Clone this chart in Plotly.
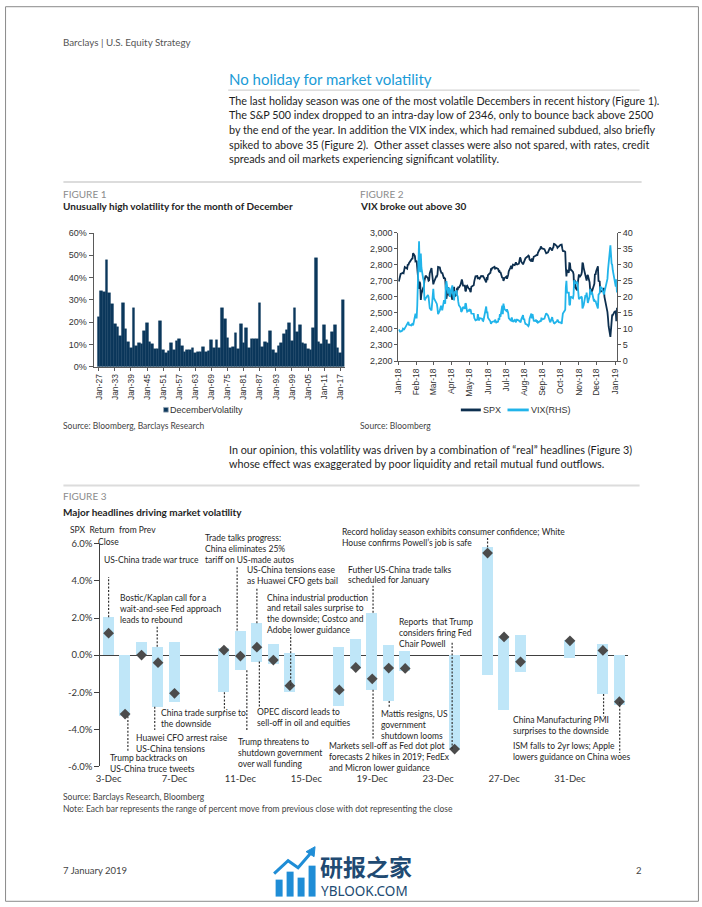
import pandas as pd
import plotly.graph_objects as go

# figure size; reference page coordinates are mapped through the viewer's small inset
W, H = 702, 907
INSET, SCALE = 4.5, 0.99

# ---------------- Figure 1 data ----------------
fig1_years = list(range(1927, 2019))
fig1_dec_vol = [22.5, 34, 33.5, 48, 33, 28, 19, 18, 14, 28.5,
                17, 11, 8.5, 26.5, 9.5, 10.5, 10, 16, 19.5, 11,
                10, 8, 8, 20.5, 7.5, 6, 7, 10.5, 7.5, 11.5,
                12.5, 9.5, 6.5, 7.5, 7.5, 8.5, 6, 6.5, 6.5, 9,
                6.5, 7, 12, 8.5, 12, 8.5, 26.5, 21.5, 13, 8.5,
                9, 15, 8, 19, 10.5, 17.5, 8.5, 12.5, 12.5, 12.5,
                28.5, 9, 11, 10.5, 16, 7.5, 6, 9.5, 10.5, 14.5,
                16.5, 19.5, 11.5, 26.5, 15.5, 18.5, 10.5, 10, 8, 7.5,
                17.5, 49, 11, 10, 18.5, 12, 10, 15.5, 18.5, 8.5,
                6, 30]
fig1_tick_years = [1927, 1933, 1939, 1945, 1951, 1957, 1963, 1969, 1975,
                   1981, 1987, 1993, 1999, 2005, 2011, 2017]
fig1_tick_labels = ["Jan-27", "Jan-33", "Jan-39", "Jan-45", "Jan-51", "Jan-57",
                    "Jan-63", "Jan-69", "Jan-75", "Jan-81", "Jan-87", "Jan-93",
                    "Jan-99", "Jan-05", "Jan-11", "Jan-17"]
fig1_y_ticks = [0, 10, 20, 30, 40, 50, 60]
fig1_y_labels = ["0%", "10%", "20%", "30%", "40%", "50%", "60%"]

# ---------------- Figure 2 data ----------------
trade_days = {
    "2018-01": [2, 3, 4, 5, 8, 9, 10, 11, 12, 16, 17, 18, 19, 22, 23, 24, 25, 26, 29, 30, 31],
    "2018-02": [1, 2, 5, 6, 7, 8, 9, 12, 13, 14, 15, 16, 20, 21, 22, 23, 26, 27, 28],
    "2018-03": [1, 2, 5, 6, 7, 8, 9, 12, 13, 14, 15, 16, 19, 20, 21, 22, 23, 26, 27, 28, 29],
    "2018-04": [2, 3, 4, 5, 6, 9, 10, 11, 12, 13, 16, 17, 18, 19, 20, 23, 24, 25, 26, 27, 30],
    "2018-05": [1, 2, 3, 4, 7, 8, 9, 10, 11, 14, 15, 16, 17, 18, 21, 22, 23, 24, 25, 29, 30, 31],
    "2018-06": [1, 4, 5, 6, 7, 8, 11, 12, 13, 14, 15, 18, 19, 20, 21, 22, 25, 26, 27, 28, 29],
    "2018-07": [2, 3, 5, 6, 9, 10, 11, 12, 13, 16, 17, 18, 19, 20, 23, 24, 25, 26, 27, 30, 31],
    "2018-08": [1, 2, 3, 6, 7, 8, 9, 10, 13, 14, 15, 16, 17, 20, 21, 22, 23, 24, 27, 28, 29, 30, 31],
    "2018-09": [4, 5, 6, 7, 10, 11, 12, 13, 14, 17, 18, 19, 20, 21, 24, 25, 26, 27, 28],
    "2018-10": [1, 2, 3, 4, 5, 8, 9, 10, 11, 12, 15, 16, 17, 18, 19, 22, 23, 24, 25, 26, 29, 30, 31],
    "2018-11": [1, 2, 5, 6, 7, 8, 9, 12, 13, 14, 15, 16, 19, 20, 21, 23, 26, 27, 28, 29, 30],
    "2018-12": [3, 4, 6, 7, 10, 11, 12, 13, 14, 17, 18, 19, 20, 21, 24, 26, 27, 28, 31],
    "2019-01": [2, 3, 4],
}
spx_close = {
    "2018-01": [2696, 2713, 2724, 2743, 2748, 2751, 2748, 2768, 2786, 2776, 2803, 2798, 2810, 2833, 2839, 2838, 2839, 2873, 2854, 2822, 2824],
    "2018-02": [2822, 2762, 2649, 2695, 2682, 2581, 2620, 2656, 2663, 2699, 2731, 2732, 2716, 2701, 2704, 2747, 2780, 2744, 2714],
    "2018-03": [2678, 2691, 2721, 2728, 2727, 2739, 2787, 2783, 2765, 2749, 2747, 2752, 2713, 2717, 2712, 2644, 2588, 2659, 2613, 2605, 2641],
    "2018-04": [2582, 2614, 2645, 2663, 2604, 2613, 2657, 2642, 2664, 2656, 2678, 2706, 2709, 2693, 2670, 2670, 2635, 2639, 2667, 2670, 2648],
    "2018-05": [2655, 2636, 2630, 2663, 2673, 2672, 2698, 2723, 2728, 2730, 2711, 2722, 2720, 2713, 2733, 2724, 2733, 2728, 2721, 2690, 2724, 2705],
    "2018-06": [2735, 2747, 2749, 2772, 2770, 2779, 2782, 2787, 2776, 2782, 2780, 2774, 2763, 2767, 2750, 2755, 2717, 2723, 2700, 2716, 2718],
    "2018-07": [2727, 2713, 2737, 2760, 2784, 2794, 2774, 2798, 2801, 2798, 2810, 2816, 2804, 2802, 2807, 2820, 2846, 2837, 2819, 2803, 2816],
    "2018-08": [2813, 2827, 2840, 2850, 2858, 2858, 2854, 2833, 2822, 2840, 2818, 2841, 2850, 2857, 2863, 2862, 2857, 2875, 2897, 2898, 2914, 2901, 2902],
    "2018-09": [2897, 2889, 2878, 2872, 2877, 2888, 2889, 2904, 2905, 2889, 2904, 2908, 2931, 2930, 2919, 2916, 2906, 2914, 2914],
    "2018-10": [2925, 2923, 2926, 2902, 2886, 2884, 2880, 2786, 2728, 2767, 2751, 2810, 2809, 2769, 2768, 2756, 2741, 2656, 2706, 2659, 2641, 2683, 2712],
    "2018-11": [2740, 2723, 2738, 2755, 2814, 2807, 2781, 2726, 2722, 2702, 2730, 2736, 2691, 2642, 2650, 2633, 2673, 2682, 2744, 2738, 2760],
    "2018-12": [2790, 2700, 2696, 2633, 2638, 2637, 2651, 2651, 2600, 2546, 2546, 2507, 2467, 2417, 2351, 2468, 2489, 2486, 2507],
    "2019-01": [2510, 2448, 2532],
}
vix_close = {
    "2018-01": [9.8, 9.2, 9.2, 9.2, 9.5, 10.1, 9.8, 9.9, 10.2, 11.7, 11.9, 12.2, 11.3, 11.0, 11.1, 11.5, 11.6, 11.1, 13.8, 14.8, 13.5],
    "2018-02": [13.5, 17.3, 37.3, 30.0, 27.7, 33.5, 29.1, 25.6, 25.0, 19.3, 19.1, 19.5, 20.6, 20.0, 18.7, 16.5, 15.8, 18.6, 19.9],
    "2018-03": [22.5, 19.6, 18.7, 18.4, 17.8, 16.5, 14.6, 15.8, 16.4, 17.2, 16.6, 15.8, 19.0, 18.2, 17.9, 23.3, 24.9, 21.0, 22.5, 22.9, 20.0],
    "2018-04": [23.6, 21.1, 20.1, 18.9, 21.5, 21.8, 20.5, 20.2, 18.5, 17.4, 16.6, 15.3, 15.6, 16.0, 16.9, 16.3, 18.0, 17.8, 16.2, 15.4, 15.9],
    "2018-05": [15.5, 16.0, 15.9, 14.8, 14.8, 14.7, 13.4, 13.2, 12.7, 12.9, 14.6, 13.4, 12.6, 13.4, 13.1, 13.2, 12.6, 12.5, 13.2, 17.0, 14.9, 15.4],
    "2018-06": [13.5, 12.7, 12.4, 11.6, 12.1, 12.2, 12.4, 12.3, 12.9, 12.1, 12.0, 12.3, 13.4, 12.8, 14.6, 13.8, 17.3, 14.6, 17.9, 16.9, 16.1],
    "2018-07": [15.6, 16.1, 15.0, 13.4, 12.7, 12.6, 13.6, 12.6, 12.2, 12.8, 12.1, 12.1, 12.9, 12.9, 12.6, 12.4, 12.3, 12.1, 13.0, 14.3, 12.8],
    "2018-08": [13.2, 12.2, 11.6, 11.3, 10.9, 10.9, 11.3, 13.2, 14.8, 13.3, 14.6, 13.5, 12.6, 12.5, 12.9, 12.3, 12.4, 12.0, 12.2, 12.5, 12.3, 13.5, 12.9],
    "2018-09": [13.2, 13.9, 14.7, 14.9, 14.2, 13.2, 13.1, 12.4, 12.1, 13.7, 12.8, 11.8, 11.8, 11.7, 12.2, 12.4, 12.9, 12.4, 12.1],
    "2018-10": [12.0, 12.1, 11.6, 14.2, 14.8, 15.7, 16.0, 23.0, 25.0, 21.3, 21.3, 17.6, 17.4, 20.1, 19.9, 19.6, 20.7, 25.2, 24.2, 24.2, 24.7, 23.4, 21.2],
    "2018-11": [19.3, 19.5, 20.0, 19.9, 16.4, 16.7, 17.4, 20.5, 20.0, 21.3, 20.0, 18.1, 20.1, 22.5, 20.8, 21.5, 18.9, 19.0, 18.5, 18.8, 18.1],
    "2018-12": [16.4, 20.7, 21.2, 23.2, 22.6, 21.8, 21.5, 20.7, 21.6, 24.5, 25.6, 25.6, 28.4, 30.1, 36.1, 30.4, 30.0, 28.3, 25.4],
    "2019-01": [23.2, 25.5, 21.4],
}
fig2_tick_dates = ["2018-01-01", "2018-02-01", "2018-03-01", "2018-04-01", "2018-05-01",
                   "2018-06-01", "2018-07-01", "2018-08-01", "2018-09-01", "2018-10-01",
                   "2018-11-01", "2018-12-01", "2019-01-01"]
fig2_tick_labels = ["Jan-18", "Feb-18", "Mar-18", "Apr-18", "May-18", "Jun-18", "Jul-18",
                    "Aug-18", "Sep-18", "Oct-18", "Nov-18", "Dec-18", "Jan-19"]
spx_ticks = [2200, 2300, 2400, 2500, 2600, 2700, 2800, 2900, 3000]
spx_tick_labels = ["2,200", "2,300", "2,400", "2,500", "2,600", "2,700", "2,800", "2,900", "3,000"]
vix_ticks = [0, 5, 10, 15, 20, 25, 30, 35, 40]

# ---------------- Figure 3 data ----------------
fig3_dates = ["2018-12-03", "2018-12-04", "2018-12-05", "2018-12-06", "2018-12-07",
              "2018-12-10", "2018-12-11", "2018-12-12", "2018-12-13", "2018-12-14",
              "2018-12-17", "2018-12-18", "2018-12-19", "2018-12-20", "2018-12-21",
              "2018-12-24", "2018-12-26", "2018-12-27", "2018-12-28", "2018-12-31",
              "2019-01-02", "2019-01-03"]
fig3_high = [2.04, 0.0, 0.72, 0.45, 0.72,
             0.40, 1.33, 1.72, 0.60, 0.12,
             0.47, 0.88, 2.29, 0.55, 0.23,
             0.0, 5.82, 1.05, 1.11, 0.84,
             0.63, 0.0]
fig3_low = [0.0, -3.30, 0.0, -2.78, -2.51,
            -2.0, -0.82, -0.34, -0.45, -1.96,
            -2.72, -0.75, -1.87, -2.48, -0.85,
            -5.10, -1.04, -2.96, -0.88, -0.13,
            -2.10, -2.69]
fig3_close = [1.18, -3.18, 0.0, -0.41, -2.06,
              0.27, -0.05, 0.43, -0.27, -1.65,
              -1.88, -0.67, -1.28, -0.70, -0.72,
              -5.07, 5.50, 0.98, -0.36, 0.77,
              0.25, -2.51]
fig3_tick_dates = ["2018-12-03", "2018-12-07", "2018-12-11", "2018-12-15",
                   "2018-12-19", "2018-12-23", "2018-12-27", "2018-12-31"]
fig3_tick_labels = ["3-Dec", "7-Dec", "11-Dec", "15-Dec", "19-Dec", "23-Dec", "27-Dec", "31-Dec"]
fig3_boundaries = ["2018-12-06 12:00", "2018-12-10 12:00", "2018-12-14 12:00", "2018-12-18 12:00",
                   "2018-12-22 12:00", "2018-12-26 12:00", "2018-12-30 12:00", "2019-01-03 12:00"]
fig3_y_ticks = [-6, -4, -2, 0, 2, 4, 6]
fig3_y_labels = ["-6.0%", "-4.0%", "-2.0%", "0.0%", "2.0%", "4.0%", "6.0%"]

# ---------------- styling ----------------
BODY = "Lato, sans-serif"
TICKF = "Liberation Sans, Arial, sans-serif"
NOTE = "Lato, sans-serif"
NAVY = "#0c385c"
SPX_C = "#0d2f4f"
VIX_C = "#21b4ea"
BAR3 = "#bfe6f8"
DIA = "#4b4b4b"
AX = "#5a5a5a"
TXT = "#1e1e1e"


def px2x(px):
    return ((px - INSET) / SCALE) / W


def px2y(py):
    return 1 - ((py - INSET) / SCALE) / H


annotations = []
shapes = []


def add_text(x, y, s, size=10, color=TXT, family=BODY, anchor="left", weight=None):
    font = dict(family=family, size=size, color=color)
    if weight:
        font["weight"] = weight
    annotations.append(dict(xref="paper", yref="paper", x=px2x(x - 1), y=px2y(y), text=s,
                            showarrow=False, xanchor=anchor, yanchor="middle", borderpad=0,
                            font=font))


def hline(x0, x1, y, color, width):
    shapes.append(dict(type="line", xref="paper", yref="paper", x0=px2x(x0), x1=px2x(x1),
                       y0=px2y(y), y1=px2y(y), line=dict(color=color, width=width)))


# build Figure 2 series
fig2_dates, fig2_spx, fig2_vix = [], [], []
for m, days in trade_days.items():
    for d, s, v in zip(days, spx_close[m], vix_close[m]):
        fig2_dates.append(f"{m}-{d:02d}")
        fig2_spx.append(s)
        fig2_vix.append(v)

fig = go.Figure()

# Figure 1 bars
fig.add_trace(go.Bar(x=fig1_years, y=fig1_dec_vol, width=1,
                     marker=dict(color=NAVY, line=dict(width=0.4, color=NAVY)),
                     xaxis="x", yaxis="y", hoverinfo="skip"))

# Figure 2 lines
fig.add_trace(go.Scatter(x=fig2_dates, y=fig2_spx, mode="lines", line=dict(color=SPX_C, width=1.8),
                         xaxis="x2", yaxis="y2", hoverinfo="skip"))
fig.add_trace(go.Scatter(x=fig2_dates, y=fig2_vix, mode="lines", line=dict(color=VIX_C, width=1.8),
                         xaxis="x2", yaxis="y3", hoverinfo="skip"))

# Figure 3 floating bars + close diamonds
fig.add_trace(go.Bar(x=fig3_dates, y=[h - l for h, l in zip(fig3_high, fig3_low)], base=fig3_low,
                     width=57600000, marker=dict(color=BAR3, line=dict(width=0)),
                     xaxis="x3", yaxis="y4", hoverinfo="skip"))
fig.add_trace(go.Scatter(x=fig3_dates, y=fig3_close, mode="markers",
                         marker=dict(symbol="diamond", size=8.3, color=DIA),
                         xaxis="x3", yaxis="y4", cliponaxis=False, hoverinfo="skip"))

# ---------------- page text ----------------
add_text(62.7, 40.7, "Barclays | U.S. Equity Strategy", 9.8, "#555555")
add_text(228.4, 77.3, "No holiday for market volatility", 15, "#1a9bd7")
hline(228, 640, 88.8, "#c9c9c9", 1)
para1 = ["The last holiday season was one of the most volatile Decembers in recent history (Figure 1).",
         "The S&amp;P 500 index dropped to an intra-day low of 2346, only to bounce back above 2500",
         "by the end of the year. In addition the VIX index, which had remained subdued, also briefly",
         "spiked to above 35 (Figure 2).  Other asset classes were also not spared, with rates, credit",
         "spreads and oil markets experiencing significant volatility."]
for i, line in enumerate(para1):
    add_text(228.4, 99 + i * 14.7, line, 10.8)
hline(63, 642, 181, "#dcdcdc", 2)

add_text(63, 192.7, "FIGURE 1", 10, "#8c8c8c")
add_text(63, 205, "<b>Unusually high volatility for the month of December</b>", 10, TXT)
add_text(360, 192.7, "FIGURE 2", 10, "#8c8c8c")
add_text(360, 205, "<b>VIX broke out above 30</b>", 10, TXT)
add_text(63, 425, "Source: Bloomberg, Barclays Research", 8.5, "#444444")
add_text(360, 425.5, "Source: Bloomberg", 8.5, "#444444")

# figure 1 legend
shapes.append(dict(type="rect", xref="paper", yref="paper", x0=px2x(163.3), x1=px2x(168),
                   y0=px2y(411.5), y1=px2y(406.8), fillcolor=NAVY, line=dict(color="#9aa9b8", width=0.8)))
add_text(169.5, 409.5, "DecemberVolatilty", 9, "#333333", TICKF)
# figure 2 legend
hline(461, 481, 409.3, SPX_C, 2.8)
add_text(483, 409.3, "SPX", 9, "#333333", TICKF)
hline(507.7, 529, 409.3, VIX_C, 2.8)
add_text(531.5, 409.3, "VIX(RHS)", 9, "#333333", TICKF)

para2 = ["In our opinion, this volatility was driven by a combination of \u201creal\u201d headlines (Figure 3)",
         "whose effect was exaggerated by poor liquidity and retail mutual fund outflows."]
for i, line in enumerate(para2):
    add_text(228.4, 448.5 + i * 14.7, line, 10.8)
hline(63, 640, 485, "#dcdcdc", 2)

add_text(63, 495.7, "FIGURE 3", 10, "#8c8c8c")
add_text(63, 511.7, "<b>Major headlines driving market volatility</b>", 10, TXT)
add_text(63, 797.3, "Source: Barclays Research, Bloomberg", 8.5, "#444444")
add_text(63, 809.3, "Note: Each bar represents the range of percent move from previous close with dot representing the close",
         8.5, "#444444")

NS = 8.5
add_text(70, 530, "SPX  Return  from Prev", NS, TXT, NOTE)
add_text(97.7, 541.7, "Close", NS, TXT, NOTE)

# ---------------- figure 3 headline notes ----------------
fig3_notes = [
    dict(lines=["US-China trade war truce"], x=104, y=[560], date="2018-12-03", at="high", end=576.7, dx=0),
    dict(lines=["Trade talks progress:", "China eliminates 25%", "tariff on US-made autos"], x=205,
         y=[537.3, 548.7, 560], date="2018-12-11", at="high", end=567, dx=-0.2),
    dict(lines=["US-China tensions ease", "as Huawei CFO gets bail"], x=246.7, y=[570, 580.7],
         date="2018-12-12", at="high", end=587, dx=0),
    dict(lines=["Bostic/Kaplan call for a", "wait-and-see Fed approach", "leads to rebound"], x=119.3,
         y=[597.8, 608.6, 619.4], date="2018-12-06", at="high", end=626.5, dx=-0.05),
    dict(lines=["China industrial production", "and retail sales surprise to", "the downside; Costco and",
                "Adobe lower guidance"], x=266.7, y=[597.3, 608, 618.7, 629.4],
         date="2018-12-14", at="close", end=634, dx=0.05),
    dict(lines=["Futher US-China trade talks", "scheduled for January"], x=348, y=[569.3, 579.7],
         date="2018-12-19", at="high", end=585.5, dx=0.05),
    dict(lines=["Record holiday season exhibits consumer confidence; White",
                "House confirms Powell\u2019s job is safe"], x=341.7, y=[531.7, 542.7],
         date="2018-12-26", at="high", end=537, dx=0),
    dict(lines=["Reports  that Trump", "considers firing Fed", "Chair Powell"], x=398.7,
         y=[621.7, 632.7, 643.5], date="2018-12-24", at="close", end=642, dx=-0.15),
    dict(lines=["China trade surprise to", "the downside"], x=161, y=[712.7, 724],
         date="2018-12-10", at="low", end=711, dx=0.03),
    dict(lines=["OPEC discord leads to", "sell-off in oil and equities"], x=256.7, y=[711.7, 722.7],
         date="2018-12-12", at="low", end=706.5, dx=0.15),
    dict(lines=["Huawei CFO arrest raise", "US-China tensions"], x=135.3, y=[737.7, 748.7],
         date="2018-12-06", at="low", end=730, dx=-0.2),
    dict(lines=["Trump backtracks on", "US-China truce tweets"], x=110, y=[758.3, 769],
         date="2018-12-04", at="low", end=752, dx=0.17),
    dict(lines=["Trump threatens to", "shutdown government", "over wall funding"], x=238.3,
         y=[741.7, 753, 764.3], date="2018-12-11", at="low", end=730, dx=0.39),
    dict(lines=["Markets sell-off as Fed dot plot", "forecasts 2 hikes in 2019; FedEx",
                "and Micron lower guidance"], x=329.3, y=[746.2, 757.2, 768],
         date="2018-12-19", at="low", end=740, dx=0.05),
    dict(lines=["Mattis resigns, US", "government", "shutdown looms"], x=381, y=[714, 725, 735.7],
         date="2018-12-20", at="low", end=707.5, dx=0.03),
    dict(lines=["China Manufacturing PMI", "surprises to the downside"], x=513.3, y=[720, 731],
         date="2019-01-02", at="low", end=716.5, dx=0.04),
    dict(lines=["ISM falls to 2yr lows; Apple", "lowers guidance on China woes"], x=513.3,
         y=[745.7, 757.3], date="2019-01-03", at="close", end=753, dx=0.02),
]

Y3_BOT, Y3_TOP = px2y(766.5), px2y(543.5)


def f3y(v):
    return Y3_BOT + (v + 6) / 12 * (Y3_TOP - Y3_BOT)


series3 = dict(high=fig3_high, low=fig3_low, close=fig3_close)
for n in fig3_notes:
    for line, yy in zip(n["lines"], n["y"]):
        add_text(n["x"], yy, line, NS, TXT, NOTE)
    i = fig3_dates.index(n["date"])
    xd = (pd.Timestamp(n["date"]) + pd.Timedelta(days=n["dx"])).strftime("%Y-%m-%d %H:%M:%S")
    shapes.append(dict(type="line", xref="x3", yref="paper", x0=xd, x1=xd,
                       y0=f3y(series3[n["at"]][i]), y1=px2y(n["end"]),
                       line=dict(color="#333333", width=1.2, dash="2px,1.6px")))

# ---------------- footer ----------------
add_text(63, 870.7, "7 January 2019", 9.5, "#444444")
add_text(636, 870.7, "2", 9.5, "#444444")
add_text(320, 866.5, "<b>研报之家</b>", 23, "#214a72", "Noto Sans CJK SC")
add_text(321, 891.5, "YBLOOK.COM", 13.5, "#214a72", "Noto Sans")
for (bx0, bx1, by0) in [(275.5, 282.5, 880), (286.5, 293.5, 872), (297.5, 304.5, 878), (308.5, 315.5, 866)]:
    shapes.append(dict(type="rect", xref="paper", yref="paper", x0=px2x(bx0), x1=px2x(bx1),
                       y0=px2y(897), y1=px2y(by0), fillcolor="#1f8dd6", line=dict(width=0)))
shapes.append(dict(type="path", xref="paper", yref="paper",
                   path=f"M {px2x(274)},{px2y(874)} L {px2x(288)},{px2y(861)} L {px2x(298)},{px2y(868)} L {px2x(311)},{px2y(853)}",
                   line=dict(color="#1f8dd6", width=3)))
shapes.append(dict(type="path", xref="paper", yref="paper",
                   path=f"M {px2x(306)},{px2y(852)} L {px2x(315)},{px2y(847)} L {px2x(314)},{px2y(857)} Z",
                   fillcolor="#1f8dd6", line=dict(color="#1f8dd6", width=1)))

# page border (at the figure edge)
shapes.append(dict(type="rect", xref="paper", yref="paper", x0=0.0008, x1=0.9992,
                   y0=0.0008, y1=0.9992, line=dict(color="#8a8a8a", width=1)))

tick_font = dict(family=TICKF, size=9, color="#333333")
fig.update_layout(
    width=W, height=H, margin=dict(l=0, r=0, t=0, b=0),
    paper_bgcolor="white", plot_bgcolor="white", showlegend=False, bargap=0,
    annotations=annotations, shapes=shapes,
    xaxis=dict(domain=[px2x(93.3), px2x(344.5)], range=[1925.1, 2018.6], anchor="y",
               tickmode="array", tickvals=fig1_tick_years, ticktext=fig1_tick_labels, tickangle=-90,
               showline=True, linecolor=AX, linewidth=1, ticks="outside", ticklen=3, tickcolor=AX,
               tickfont=dict(family=TICKF, size=8.5, color="#333333"), showgrid=False, zeroline=False),
    yaxis=dict(domain=[px2y(366), px2y(232)], range=[0, 60], anchor="x",
               tickmode="array", tickvals=fig1_y_ticks, ticktext=fig1_y_labels,
               showline=True, linecolor=AX, linewidth=1, ticks="outside", ticklen=4, tickcolor=AX,
               tickfont=tick_font, showgrid=False, zeroline=False),
    xaxis2=dict(domain=[px2x(398.3), px2x(617.3)], type="date", range=["2018-01-01", "2019-01-04"],
                anchor="y2", tickmode="array", tickvals=fig2_tick_dates, ticktext=fig2_tick_labels,
                tickangle=-90, showline=True, linecolor=AX, linewidth=1, ticks="outside", ticklen=3,
                tickcolor=AX, tickfont=dict(family=TICKF, size=8.5, color="#333333"),
                showgrid=False, zeroline=False),
    yaxis2=dict(domain=[px2y(360.3), px2y(231.7)], range=[2200, 3000], anchor="x2",
                tickmode="array", tickvals=spx_ticks, ticktext=spx_tick_labels,
                showline=True, linecolor=AX, linewidth=1, ticks="outside", ticklen=3, tickcolor=AX,
                tickfont=tick_font, showgrid=False, zeroline=False),
    yaxis3=dict(overlaying="y2", side="right", anchor="x2", range=[0, 40],
                tickmode="array", tickvals=vix_ticks,
                showline=True, linecolor=AX, linewidth=1, ticks="outside", ticklen=3, tickcolor=AX,
                tickfont=tick_font, showgrid=False, zeroline=False),
    xaxis3=dict(domain=[px2x(100), px2x(628)], type="date",
                range=["2018-12-02 12:00", "2019-01-03 12:00"], anchor="y4",
                tickmode="array", tickvals=fig3_tick_dates, ticktext=fig3_tick_labels,
                ticks="", showline=False, showgrid=False, zeroline=False, ticklabelstandoff=5,
                tickfont=dict(family=NOTE, size=9.5, color="#333333")),
    xaxis4=dict(overlaying="x3", anchor="free", position=px2y(655), side="bottom", type="date",
                range=["2018-12-02 12:00", "2019-01-03 12:00"], tickmode="array",
                tickvals=fig3_boundaries, showticklabels=False, ticks="outside", ticklen=4,
                tickcolor="#404040", showline=False, showgrid=False, zeroline=False),
    yaxis4=dict(domain=[Y3_BOT, Y3_TOP], range=[-6, 6], anchor="x3",
                tickmode="array", tickvals=fig3_y_ticks, ticktext=fig3_y_labels,
                showline=True, linecolor="#404040", linewidth=1, ticks="outside", ticklen=5,
                tickcolor="#404040", zeroline=True, zerolinecolor="#404040", zerolinewidth=1,
                showgrid=False, tickfont=dict(family=NOTE, size=9.5, color="#333333")),
)

fig.write_html("out.html", config={"displayModeBar": False},
               post_script="document.body.style.margin='0';document.body.style.padding='0';"
                           "document.documentElement.style.overflow='hidden';"
                           "document.body.style.overflow='hidden';")
